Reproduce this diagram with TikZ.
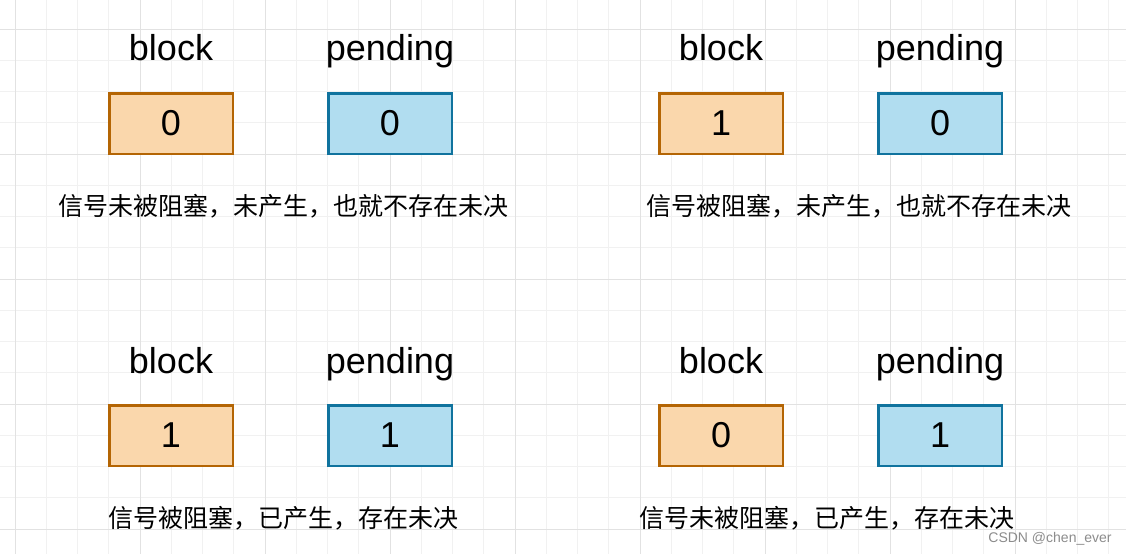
\documentclass[tikz,border=0pt]{standalone}
\usepackage{fontspec}
\setmainfont{Liberation Sans}
\newfontfamily\cjk{Noto Sans CJK SC}
\usetikzlibrary{positioning}
\definecolor{blockfill}{HTML}{FAD7AC}
\definecolor{blockline}{HTML}{B46504}
\definecolor{pendfill}{HTML}{B1DDF0}
\definecolor{pendline}{HTML}{10739E}
\definecolor{gridminor}{HTML}{F1F1F1}
\definecolor{gridmajor}{HTML}{E2E2E2}
\tikzset{
  lbl/.style={anchor=base,inner sep=0pt,font=\fontsize{36}{40}\selectfont},
  bitbox/.style={draw,line width=2.5pt,minimum width=123.5pt,minimum height=60.5pt,inner sep=0pt,font=\fontsize{36}{40}\selectfont},
  blockbox/.style={bitbox,fill=blockfill,draw=blockline},
  pendbox/.style={bitbox,fill=pendfill,draw=pendline},
  note/.style={anchor=base,inner sep=0pt,font=\cjk\fontsize{25}{30}\selectfont}
}
\begin{document}
\begin{tikzpicture}[x=1pt,y=-1pt]
\useasboundingbox (0,0) rectangle (1126,554);
\fill[white] (0,0) rectangle (1126,554);
% grid
\foreach \k in {0,...,35}{\draw[gridminor,line width=1pt] ({15+31.25*\k},0) -- ({15+31.25*\k},554);}
\foreach \k in {0,...,16}{\draw[gridminor,line width=1pt] (0,{29+31.25*\k}) -- (1126,{29+31.25*\k});}
\foreach \k in {0,...,8}{\draw[gridmajor,line width=1pt] ({15+125*\k},0) -- ({15+125*\k},554);}
\foreach \k in {0,...,4}{\draw[gridmajor,line width=1pt] (0,{29+125*\k}) -- (1126,{29+125*\k});}
% top left
\node[lbl] (b1) at (171,60) {block};
\node[lbl] (p1) at (390,60) {pending};
\node[blockbox] (bb1) at (171,123.5) {0};
\node[pendbox] (pb1) at (390,123.5) {0};
\node[note] (n1) at (283,215) {信号未被阻塞，未产生，也就不存在未决};
% top right
\node[lbl] (b2) at (721,60) {block};
\node[lbl] (p2) at (940,60) {pending};
\node[blockbox] (bb2) at (721,123.5) {1};
\node[pendbox] (pb2) at (940,123.5) {0};
\node[note] (n2) at (859,215) {信号被阻塞，未产生，也就不存在未决};
% bottom left
\node[lbl] (b3) at (171,373) {block};
\node[lbl] (p3) at (390,373) {pending};
\node[blockbox] (bb3) at (171,435.5) {1};
\node[pendbox] (pb3) at (390,435.5) {1};
\node[note] (n3) at (283,527) {信号被阻塞，已产生，存在未决};
% bottom right
\node[lbl] (b4) at (721,373) {block};
\node[lbl] (p4) at (940,373) {pending};
\node[blockbox] (bb4) at (721,435.5) {0};
\node[pendbox] (pb4) at (940,435.5) {1};
\node[note] (n4) at (827,527) {信号未被阻塞，已产生，存在未决};
% watermark
\node[anchor=base,inner sep=0pt,text=black!45,font=\fontsize{14}{16}\selectfont] (wm) at (1050,542) {CSDN @chen\_ever};
\end{tikzpicture}
\end{document}
